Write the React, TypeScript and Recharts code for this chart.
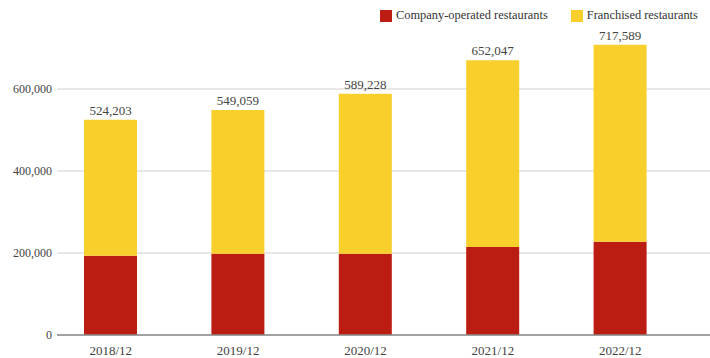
import { BarChart, Bar, XAxis, YAxis, CartesianGrid, LabelList } from "recharts";

const periods = ["2018/12", "2019/12", "2020/12", "2021/12", "2022/12"];
const companyOperated = [193000, 198000, 198000, 214500, 227500];
const franchised = [332000, 351000, 390500, 455500, 480500];
const totalLabels = ["524,203", "549,059", "589,228", "652,047", "717,589"];
const yTicks = [0, 200000, 400000, 600000];

const RED = "#BC1D13";
const YELLOW = "#F9CF2B";
const FONT = '"Liberation Serif", "Times New Roman", serif';

const data = periods.map((p, i) => ({
  period: p,
  company: companyOperated[i],
  franchised: franchised[i],
  total: totalLabels[i],
}));

const fmt = (v: number) => v.toLocaleString("en-US");

const App = () => {
  return (
    <div style={{ position: "absolute", left: 0, top: 0, width: 710, height: 358, fontFamily: FONT }}>
      {/* legend */}
      <div
        style={{
          position: "absolute",
          top: 8,
          left: 380,
          display: "flex",
          alignItems: "center",
          fontSize: 12.4,
          color: "#333",
          whiteSpace: "nowrap",
        }}
      >
        <div style={{ width: 12, height: 12, backgroundColor: RED, marginRight: 4 }}></div>
        <span style={{ marginRight: 23 }}>Company-operated restaurants</span>
        <div style={{ width: 12, height: 12, backgroundColor: YELLOW, marginRight: 4 }}></div>
        <span>Franchised restaurants</span>
      </div>

      <BarChart
        width={710}
        height={358}
        data={data}
        margin={{ top: 7, right: 0, bottom: 0, left: 0 }}
        barSize={53}
      >
        <CartesianGrid vertical={false} stroke="#d0d0d0" horizontalValues={yTicks} />
        <XAxis
          dataKey="period"
          height={23}
          padding={{ left: -10, right: 26 }}
          tickLine={false}
          tickSize={0}
          tickMargin={11}
          axisLine={{ stroke: "#8a8a8a", strokeWidth: 1.5 }}
          tick={{ fill: "#444", fontSize: 13, fontFamily: FONT }}
        />
        <YAxis
          width={57}
          domain={[0, 800000]}
          ticks={yTicks}
          tickFormatter={fmt}
          axisLine={false}
          tickLine={false}
          tickSize={0}
          tickMargin={5}
          tick={{ fill: "#444", fontSize: 12, fontFamily: FONT }}
        />
        <Bar dataKey="company" stackId="a" fill={RED} isAnimationActive={false} />
        <Bar dataKey="franchised" stackId="a" fill={YELLOW} isAnimationActive={false}>
          <LabelList
            dataKey="total"
            position="top"
            offset={5}
            fill="#444"
            fontSize={13}
            fontFamily={FONT}
          />
        </Bar>
      </BarChart>
    </div>
  );
};

export default App;
